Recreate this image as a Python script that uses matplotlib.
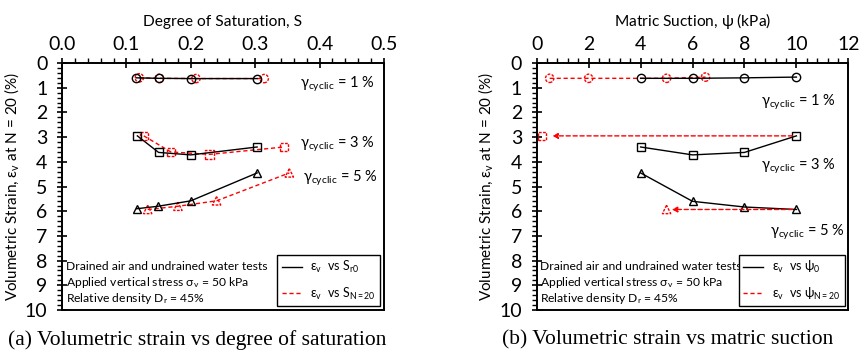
import numpy as np
import matplotlib.pyplot as plt
from matplotlib.ticker import MultipleLocator

plt.rcParams['font.family'] = ['Lato', 'DejaVu Sans']
plt.rcParams['mathtext.fontset'] = 'custom'
plt.rcParams['mathtext.rm'] = 'Lato'
plt.rcParams['mathtext.it'] = 'Lato'
plt.rcParams['mathtext.fallback'] = 'stixsans'

# (a) strain vs degree of saturation
s_r0_c = [0.115, 0.150, 0.201, 0.303]
ev_s_c = [0.60, 0.62, 0.63, 0.63]
s_n20_c = [0.120, 0.151, 0.208, 0.314]
ev_n20_c = [0.60, 0.62, 0.63, 0.63]

s_r0_s = [0.117, 0.150, 0.200, 0.303]
ev_s_s = [2.95, 3.62, 3.72, 3.40]
s_n20_s = [0.127, 0.169, 0.229, 0.345]
ev_n20_s = [2.95, 3.60, 3.70, 3.40]

s_r0_t = [0.116, 0.149, 0.200, 0.303]
ev_s_t = [5.90, 5.80, 5.58, 4.45]
s_n20_t = [0.133, 0.180, 0.240, 0.353]
ev_n20_t = [5.93, 5.80, 5.58, 4.45]

# (b) strain vs matric suction
psi0_c = [4, 6, 8, 10]
ev_p_c = [0.62, 0.62, 0.60, 0.57]
psi_n20_c = [0.5, 2.0, 5.0, 6.5]
ev_pn_c = [0.62, 0.62, 0.62, 0.57]

psi0_s = [4, 6, 8, 10]
ev_p_s = [3.40, 3.72, 3.62, 2.95]
psi_n20_s = [0.2]
ev_pn_s = [2.95]

psi0_t = [4, 6, 8, 10]
ev_p_t = [4.45, 5.60, 5.83, 5.93]
psi_n20_t = [5.0]
ev_pn_t = [5.93]

notes = ['Drained air and undrained water tests',
         r'Applied vertical stress $\mathregular{\sigma_v}$ = 50 kPa',
         r'Relative density $\mathregular{D_r}$ = 45%']
gam = r'$\mathregular{\gamma_{cyclic}}$ = %d %%'

# label positions (data coords) for the gamma labels
gam_a = [(0.37, 0.85), (0.37, 3.3), (0.375, 4.65)]
gam_b = [(8.65, 1.6), (8.65, 4.2), (9.0, 6.85)]

red = '#ff0000'
dash = (0, (3, 2))

fig = plt.figure(figsize=(8.59, 3.53), dpi=100)
ax1 = fig.add_axes([0.0722, 0.1218, 0.3748, 0.6997])
ax2 = fig.add_axes([0.6248, 0.1218, 0.3628, 0.6997])


def style(ax, xmax, xmaj, xmin, xlab, fmt):
    ax.set_xlim(0, xmax)
    ax.set_ylim(10, 0)
    ax.xaxis.tick_top()
    ax.xaxis.set_label_position('top')
    ax.xaxis.set_major_locator(MultipleLocator(xmaj))
    ax.xaxis.set_minor_locator(MultipleLocator(xmin))
    ax.yaxis.set_major_locator(MultipleLocator(1))
    ax.yaxis.set_minor_locator(MultipleLocator(0.2))
    ax.xaxis.set_major_formatter(fmt)
    ax.tick_params(which='major', direction='inout', length=7, width=1.2,
                   labelsize=14, color='black')
    ax.tick_params(axis='x', which='major', pad=4)
    ax.tick_params(axis='y', which='major', pad=7)
    ax.tick_params(which='minor', direction='out', length=3.5, width=1.0)
    for sp in ax.spines.values():
        sp.set_linewidth(1.4)
    ax.set_xlabel(xlab, fontsize=11.2, labelpad=7)
    ax.set_ylabel(r'Volumetric Strain, $\mathregular{\epsilon_v}$ at N = 20 (%)',
                  fontsize=11, labelpad=3)
    for i, t in enumerate(notes):
        ax.text(0.012, 0.175 - i * 0.065, t, transform=ax.transAxes,
                fontsize=8.7, va='center', ha='left')


def pair(ax, x0, y0, x1, y1, m):
    ax.plot(x0, y0, color='black', lw=1.0, marker=m, ms=6,
            mfc='none', mec='black', mew=1.0, zorder=3)
    ax.plot(x1, y1, color=red, lw=1.0, ls=dash, zorder=2)
    ax.scatter(x1, y1, s=36, marker=m, facecolors='none', edgecolors=red,
               linewidths=1.0, linestyles=(0, (2, 1)), zorder=2)


def legend(ax, labels):
    h = [plt.Line2D([], [], color='black', lw=1.0),
         plt.Line2D([], [], color=red, lw=1.0, ls=dash)]
    leg = ax.legend(h, labels, loc='lower right', fontsize=9, frameon=True,
                    fancybox=False, edgecolor='black', framealpha=1,
                    borderaxespad=0.3, handlelength=1.6, borderpad=0.35,
                    labelspacing=0.85, handletextpad=0.7)
    leg.get_frame().set_linewidth(1.0)


style(ax1, 0.5, 0.1, 0.02, 'Degree of Saturation, S',
      plt.FormatStrFormatter('%.1f'))
pair(ax1, s_r0_c, ev_s_c, s_n20_c, ev_n20_c, 'o')
pair(ax1, s_r0_s, ev_s_s, s_n20_s, ev_n20_s, 's')
pair(ax1, s_r0_t, ev_s_t, s_n20_t, ev_n20_t, '^')
for lab, (xv, yv) in zip([1, 3, 5], gam_a):
    ax1.text(xv, yv, gam % lab, fontsize=10.5, va='center')
legend(ax1, [r'$\mathregular{\epsilon_v}$  vs $\mathregular{S_{r0}}$',
             r'$\mathregular{\epsilon_v}$  vs $\mathregular{S_{N=20}}$'])

style(ax2, 12, 2, 0.4, r'Matric Suction, $\mathregular{\psi}$ (kPa)',
      plt.FormatStrFormatter('%d'))
pair(ax2, psi0_c, ev_p_c, psi_n20_c, ev_pn_c, 'o')
pair(ax2, psi0_s, ev_p_s, psi_n20_s, ev_pn_s, 's')
pair(ax2, psi0_t, ev_p_t, psi_n20_t, ev_pn_t, '^')
for xa, ya, xb in [(psi0_s[-1], ev_p_s[-1], 0.6), (psi0_t[-1], ev_p_t[-1], 5.2)]:
    ax2.annotate('', xy=(xb, ya), xytext=(xa - 0.15, ya),
                 arrowprops=dict(arrowstyle='-|>', color=red, lw=1.0,
                                 ls=(0, (3, 2)), mutation_scale=8,
                                 shrinkA=0, shrinkB=0))
for lab, (xv, yv) in zip([1, 3, 5], gam_b):
    ax2.text(xv, yv, gam % lab, fontsize=10.5, va='center')
legend(ax2, [r'$\mathregular{\epsilon_v}$  vs $\mathregular{\psi_0}$',
             r'$\mathregular{\epsilon_v}$  vs $\mathregular{\psi_{N=20}}$'])

fig.text(0.229, 0.037, '(a) Volumetric strain vs degree of saturation',
         family='Liberation Serif', fontsize=15.5, ha='center', va='center')
fig.text(0.777, 0.037, '(b) Volumetric strain vs matric suction',
         family='Liberation Serif', fontsize=15.5, ha='center', va='center')

fig.savefig('out.png', dpi=100)
